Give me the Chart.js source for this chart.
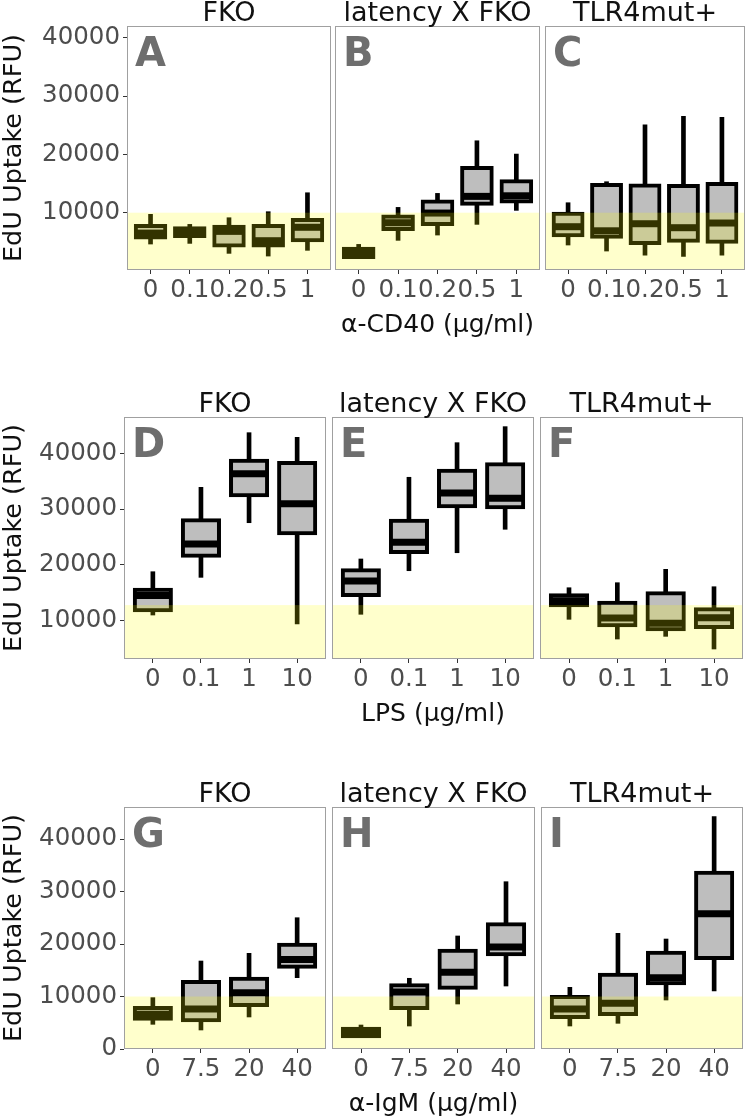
<!DOCTYPE html>
<html>
<head>
<meta charset="utf-8">
<title>EdU uptake</title>
<script src="https://cdn.jsdelivr.net/npm/chart.js@4.4.1/dist/chart.umd.min.js"></script>
<style>
  html, body { margin: 0; padding: 0; background: #fff; overflow: hidden; }
  #page { position: relative; width: 750px; height: 1120px; }
  canvas { position: absolute; }
</style>
</head>
<body>
<div id="page"></div>
<script>
// doses on the x axis of each row
var cd40Doses = ['0', '0.1', '0.2', '0.5', '1'];
var lpsDoses = ['0', '0.1', '1', '10'];
var igmDoses = ['0', '7.5', '20', '40'];
var strains = ['FKO', 'latency X FKO', 'TLR4mut+'];

// y tick labels per row
var cd40Ticks = [10000, 20000, 30000, 40000];
var lpsTicks = [10000, 20000, 30000, 40000];
var igmTicks = [0, 10000, 20000, 30000, 40000];

// top of the yellow background band
var cd40Background = 10000;
var lpsBackground = 12800;
var igmBackground = 10000;

// [min, q1, median, q3, max] for every dose
var panelA = [[4630, 5770, 6500, 7710, 9720], [4740, 6000, 6600, 7350, 8000], [3030, 4400, 6800, 7600, 9140], [2570, 4400, 5200, 7710, 10170], [3550, 5260, 7500, 8740, 13420]];
var panelB = [[2350, 2400, 3140, 3830, 4570], [5260, 7200, 8280, 9370, 10910], [6170, 8060, 9940, 11940, 13310], [8000, 11540, 12800, 17650, 22330], [10400, 11940, 12900, 15370, 20050]];
var panelC = [[4460, 6120, 7600, 9830, 11710], [3430, 5880, 6900, 14740, 15310], [2740, 4800, 8110, 14680, 25080], [2520, 5200, 7430, 14570, 26520], [2740, 5030, 8230, 14910, 26350]];
var panelD = [[11020, 11860, 14500, 15560, 18780], [17770, 21650, 23740, 27990, 33900], [27560, 32470, 36340, 38670, 43690], [9410, 25660, 30970, 38260, 42860]];
var panelE = [[11150, 14600, 17110, 19030, 21060], [18960, 22310, 24050, 27920, 35700], [22180, 30500, 32880, 36880, 41900], [26380, 30320, 31930, 38020, 44770]];
var panelF = [[10250, 12760, 13570, 14550, 15910], [6720, 9170, 10480, 13230, 16810], [7200, 8460, 9530, 14910, 19210], [4930, 8870, 10540, 12040, 16090]];
var panelG = [[4700, 5780, 6600, 7810, 9780], [3620, 5460, 7620, 12760, 16760], [6100, 8380, 10730, 13400, 18230], [13590, 15680, 17050, 19870, 25010]];
var panelH = [[2420, 2420, 3180, 3870, 4570], [4380, 7810, 10860, 12130, 13470], [8570, 11680, 14610, 18730, 21530], [12000, 18040, 19430, 23750, 31870]];
var panelI = [[4380, 6100, 7620, 9910, 11750], [4890, 6670, 8700, 14160, 22040], [9330, 12510, 13590, 18350, 20950], [11050, 17340, 25780, 33590, 44260]];

var FONT = '"DejaVu Sans", sans-serif';
var X_AXIS_HEIGHT = 72;

var rows = [
  { doses: cd40Doses, ticks: cd40Ticks, band: cd40Background, xTitle: 'α-CD40 (μg/ml)',
    yMin: 180, yMax: 42000, top: 26, bottom: 270, padTop: 26,
    lefts: [127, 335, 545], rights: [331, 540, 745],
    letters: ['A', 'B', 'C'], data: [panelA, panelB, panelC] },
  { doses: lpsDoses, ticks: lpsTicks, band: lpsBackground, xTitle: 'LPS (μg/ml)',
    yMin: 3140, yMax: 46500, top: 417, bottom: 659, padTop: 40,
    lefts: [124, 332, 540], rights: [326, 534, 743],
    letters: ['D', 'E', 'F'], data: [panelD, panelE, panelF] },
  { doses: igmDoses, ticks: igmTicks, band: igmBackground, xTitle: 'α-IgM (μg/ml)',
    yMin: 0, yMax: 46100, top: 807, bottom: 1049, padTop: 40,
    lefts: [124, 332, 541], rights: [326, 535, 743],
    letters: ['G', 'H', 'I'], data: [panelG, panelH, panelI] }
];

// medians, yellow band, panel frame, letter and strip title
var boxPlotExtras = {
  id: 'boxPlotExtras',
  afterDatasetsDraw: function (chart, args, opts) {
    var ctx = chart.ctx;
    var area = chart.chartArea;
    var y = chart.scales.y;
    var meds = chart.data.datasets[1].medians;
    ctx.save();
    ctx.strokeStyle = '#000';
    ctx.lineWidth = 7;
    chart.getDatasetMeta(1).data.forEach(function (bar, i) {
      var p = bar.getProps(['x', 'width'], true);
      var py = y.getPixelForValue(meds[i]);
      ctx.beginPath();
      ctx.moveTo(p.x - p.width / 2, py);
      ctx.lineTo(p.x + p.width / 2, py);
      ctx.stroke();
    });
    var bandY = y.getPixelForValue(opts.band);
    ctx.fillStyle = 'rgba(255, 255, 0, 0.2)';
    ctx.fillRect(area.left, bandY, area.right - area.left, area.bottom - bandY);
    ctx.restore();
  },
  afterDraw: function (chart, args, opts) {
    var ctx = chart.ctx;
    var area = chart.chartArea;
    ctx.save();
    ctx.strokeStyle = '#A0A0A0';
    ctx.lineWidth = 1;
    ctx.strokeRect(area.left + 0.5, area.top + 0.5, area.right - area.left - 1, area.bottom - area.top - 1);

    ctx.fillStyle = '#6E6E6E';
    ctx.font = 'bold 40px ' + FONT;
    ctx.textAlign = 'left';
    ctx.textBaseline = 'alphabetic';
    ctx.fillText(opts.letter, area.left + 8, area.top + 40);

    ctx.fillStyle = '#111';
    ctx.font = '27px ' + FONT;
    ctx.textAlign = 'center';
    ctx.fillText(opts.strip, (area.left + area.right) / 2, area.top - 5);
    ctx.restore();
  }
};

var page = document.getElementById('page');

function makePanel(row, strain, p) {
  var first = p === 0;
  var yw = first ? row.lefts[p] : 0;
  var cLeft = first ? 0 : row.lefts[p];
  var canvas = document.createElement('canvas');
  canvas.width = row.rights[p] - cLeft;
  canvas.height = row.padTop + (row.bottom - row.top) + X_AXIS_HEIGHT;
  canvas.style.left = cLeft + 'px';
  canvas.style.top = (row.top - row.padTop) + 'px';
  page.appendChild(canvas);

  var stats = row.data[p];
  var doses = row.doses;

  new Chart(canvas.getContext('2d'), {
    type: 'bar',
    data: {
      labels: doses.map(function (d, i) { return i + 1; }),
      datasets: [{
        label: 'whisker',
        data: stats.map(function (s) { return [s[0], s[4]]; }),
        backgroundColor: '#000',
        borderWidth: 0,
        maxBarThickness: 4,
        grouped: false,
        categoryPercentage: 1,
        barPercentage: 1,
        order: 2
      }, {
        label: 'box',
        data: stats.map(function (s) { return [s[1], s[3]]; }),
        medians: stats.map(function (s) { return s[2]; }),
        backgroundColor: '#BEBEBE',
        borderColor: '#000',
        borderWidth: 4,
        borderSkipped: false,
        inflateAmount: 2,
        grouped: false,
        categoryPercentage: 1,
        barPercentage: 0.75,
        order: 1
      }]
    },
    options: {
      responsive: false,
      animation: false,
      devicePixelRatio: 1,
      layout: { padding: { top: row.padTop, left: 0, right: 0, bottom: 0 } },
      plugins: {
        legend: { display: false },
        tooltip: { enabled: false },
        boxPlotExtras: { band: row.band, letter: row.letters[p], strip: strain }
      },
      scales: {
        x: {
          type: 'linear',
          min: 0.4,
          max: doses.length + 0.6,
          offset: false,
          afterBuildTicks: function (s) { s.ticks = doses.map(function (d, i) { return { value: i + 1 }; }); },
          afterFit: function (s) { s.height = X_AXIS_HEIGHT; },
          ticks: {
            autoSkip: false, maxRotation: 0, minRotation: 0, padding: 2,
            color: '#4D4D4D', font: { family: FONT, size: 24.5 },
            callback: function (v) { return doses[v - 1]; }
          },
          grid: { offset: false, drawOnChartArea: false, drawTicks: true, tickLength: 4, color: '#333' },
          border: { display: false },
          title: {
            display: p === 1, text: row.xTitle, color: '#111',
            font: { family: FONT, size: 25 }, padding: { top: 0, bottom: 2 }
          }
        },
        y: {
          min: row.yMin,
          max: row.yMax,
          afterBuildTicks: function (s) { s.ticks = row.ticks.map(function (v) { return { value: v }; }); },
          afterFit: function (s) { s.width = yw; },
          ticks: {
            display: first,
            padding: 3, color: '#4D4D4D', font: { family: FONT, size: 24.5 },
            callback: function (v) { return String(v); }
          },
          grid: { display: first, drawOnChartArea: false, drawTicks: true, tickLength: 4, color: '#333' },
          border: { display: false },
          title: {
            display: first, text: 'EdU Uptake (RFU)', color: '#111',
            font: { family: FONT, size: 25.5, lineHeight: 1.1 }, padding: { top: 0, bottom: 0 }
          }
        }
      }
    },
    plugins: [boxPlotExtras]
  });
}

rows.forEach(function (row) {
  strains.forEach(function (strain, p) {
    makePanel(row, strain, p);
  });
});
</script>
</body>
</html>
